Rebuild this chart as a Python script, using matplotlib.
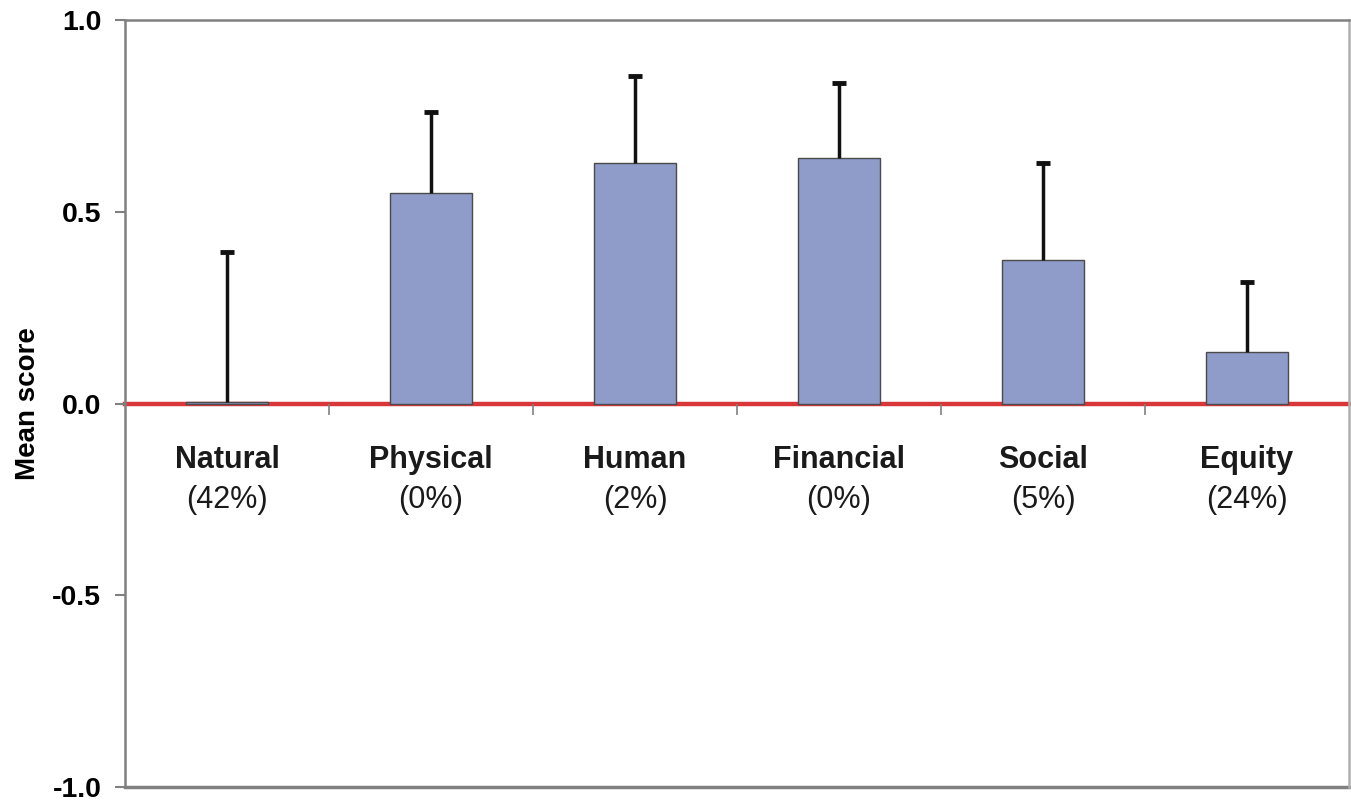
import numpy as np
import matplotlib.pyplot as plt

plt.rcParams['font.family'] = ['Liberation Sans', 'DejaVu Sans']

# values
categories = ['Natural', 'Physical', 'Human', 'Financial', 'Social', 'Equity']
percent_labels = ['(42%)', '(0%)', '(2%)', '(0%)', '(5%)', '(24%)']
mean_scores = [0.005, 0.550, 0.626, 0.639, 0.373, 0.134]
upper_error = [0.389, 0.209, 0.229, 0.198, 0.253, 0.182]

frame_col = '#808080'

fig = plt.figure(figsize=(13.51, 8.02), dpi=100)
ax = fig.add_axes([0.0925, 0.0187, 0.906, 0.9563])

x = np.arange(len(categories)) + 0.5
zeros = np.zeros(len(categories))
tops = np.array(mean_scores) + np.array(upper_error)

ax.bar(x, mean_scores, width=0.4, color='#8f9bc9', edgecolor='#4a4a4a',
       linewidth=1.0, zorder=2)
# only the upper half of the error bar, capped at the top
ax.errorbar(x, mean_scores, yerr=[zeros, upper_error], fmt='none',
            ecolor='#111111', elinewidth=2.5, capsize=0, zorder=3)
ax.plot(x, tops, linestyle='none', marker='_', markersize=10,
        markeredgewidth=3.5, color='#111111', zorder=3)

ax.set_xlim(0, len(categories))
ax.set_ylim(-1, 1)
ax.set_yticks([-1.0, -0.5, 0.0, 0.5, 1.0])
ax.set_yticklabels(['-1.0', '-0.5', '0.0', '0.5', '1.0'],
                   fontsize=20.5, fontweight='bold')
ax.tick_params(axis='y', direction='out', length=7, width=1.5,
               color=frame_col, pad=10)

# category boundaries as ticks hanging under the zero line
ax.set_xticks(np.arange(1, len(categories)))
ax.set_xticklabels([])
ax.tick_params(axis='x', direction='out', length=8, width=1.2, color=frame_col)

ax.spines['bottom'].set_position(('data', 0))
ax.spines['bottom'].set_color('#d9363a')
ax.spines['bottom'].set_linewidth(3.2)
ax.spines['bottom'].set_zorder(1)
for side in ['left', 'top', 'right']:
    ax.spines[side].set_color(frame_col)
    ax.spines[side].set_linewidth(1.8)
ax.spines['right'].set_color('#b0b0b0')
ax.axhline(-1, color=frame_col, linewidth=2.5, clip_on=False)

for xi, name, pct in zip(x, categories, percent_labels):
    ax.text(xi, -0.148, name, ha='center', va='center',
            fontsize=22, fontweight='bold', color='#1a1a1a')
    ax.text(xi, -0.252, pct, ha='center', va='center',
            fontsize=22, color='#1a1a1a')

ax.set_ylabel('Mean score', fontsize=20, fontweight='bold', labelpad=8)

fig.savefig('out.png', dpi=100)
